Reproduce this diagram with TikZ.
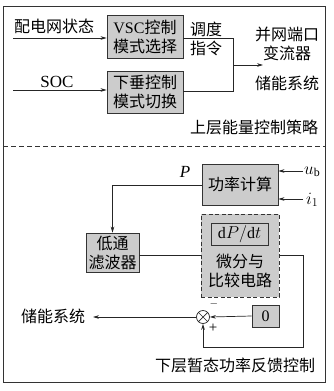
\documentclass[tikz,border=0pt]{standalone}
\usepackage{fontspec}
\setmainfont{Liberation Serif}
\newfontfamily\cjk{Noto Sans CJK SC}
\usetikzlibrary{arrows.meta,calc}
\tikzset{
  blk/.style={draw=black!80,line width=0.8pt,fill=black!20,inner sep=0pt,align=center,font=\fontsize{16}{19}\selectfont\cjk},
  txt/.style={inner sep=0pt,align=center,font=\fontsize{16}{19}\selectfont\cjk},
  ln/.style={line width=0.7pt,draw=black!85},
  arr/.style={ln,-{Stealth[length=6pt,width=3.6pt]}}
}
\begin{document}
\begin{tikzpicture}[x=1pt,y=-1pt]
\useasboundingbox (0,0) rectangle (333,391);
\draw[line width=0.8pt,draw=black!80] (3,6) rectangle (325,382);
\draw[line width=0.8pt,draw=black!80,dash pattern=on 5pt off 3pt] (3,146) -- (325,146);
% upper
\node[blk,minimum width=76pt,minimum height=43pt] (vsc) at (145,36.5) {{\rmfamily VSC}控制\\模式选择};
\node[blk,minimum width=76pt,minimum height=42pt] (droop) at (145,92) {下垂控制\\模式切换};
\node[txt] (st) at (54,26) {配电网状态};
\node[txt,font=\fontsize{17}{19}\selectfont\rmfamily] (soc) at (57,82) {SOC};
\coordinate (in1) at (13,38);
\coordinate (in2) at (13,90);
\draw[arr] (in1) -- (in1 -| vsc.west);
\draw[arr] (in2) -- (in2 -| droop.west);
\coordinate (jt) at (233,38);
\coordinate (jb) at (233,91);
\coordinate (jm) at (233,65);
\coordinate (jo) at (263,65);
\draw[ln] (vsc.east |- jt) -- (jt) -- (jb) -- (droop.east |- jb);
\draw[arr] (jm) -- (jo);
\node[txt] (dd) at (206,39) {调度\\指令};
\node[txt] (conv) at (287,44) {并网端口\\变流器};
\node[txt] (ess1) at (287,83) {储能系统};
\node[txt] (up) at (254,127) {上层能量控制策略};
% lower
\node[blk,minimum width=76pt,minimum height=41pt] (pc) at (240,184.5) {功率计算};
\node[txt,font=\fontsize{17}{19}\selectfont\rmfamily\itshape] (plab) at (185,172) {P};
\node[blk,minimum width=53pt,minimum height=39pt] (lpf) at (112.5,252.5) {低通\\滤波器};
\draw[arr] (pc.west |- 0,185) -| (lpf.north);
\coordinate (ub) at (303,171);
\coordinate (ii) at (303,199);
\draw[arr] (ub) -- (ub -| pc.east);
\draw[arr] (ii) -- (ii -| pc.east);
\node[txt,anchor=west,font=\fontsize{17}{19}\selectfont] (ubl) at (304,172) {$u_{\mathrm{b}}$};
\node[txt,anchor=west,font=\fontsize{17}{19}\selectfont] (iil) at (306,200) {$i_{1}$};
\node[blk,dash pattern=on 4pt off 2.5pt,minimum width=78pt,minimum height=83pt] (dbox) at (240,255.5) {};
\node[blk,minimum width=57pt,minimum height=22pt,font=\fontsize{16}{18}\selectfont] (dpdt) at (239.5,234) {$\mathrm{d}P/\mathrm{d}t$};
\node[txt] (wf) at (240,270.5) {微分与\\比较电路};
\coordinate (lr) at (139,255);
\draw[ln] (lpf.east |- lr) -- (dbox.west |- lr);
\node[draw=black!85,line width=0.7pt,circle,minimum size=13pt,inner sep=0pt] (sum) at (203,317) {};
\draw[ln] (sum.north west) -- (sum.south east) (sum.north east) -- (sum.south west);
\node[blk,minimum width=27pt,minimum height=22pt,font=\fontsize{16}{18}\selectfont\rmfamily] (zero) at (265.5,316) {0};
\coordinate (fr) at (303,255);
\coordinate (fb) at (303,347);
\coordinate (fl) at (203,347);
\draw[arr] (dbox.east |- fr) -- (fr) -- (fb) -- (fl) -- (sum.south);
\draw[arr] (zero.west) -- (sum.east);
\coordinate (eo) at (93,317);
\draw[arr] (sum.west) -- (eo);
\node[txt] (ess2) at (53,316) {储能系统};
\node[txt,font=\fontsize{11}{11}\selectfont\rmfamily] (minus) at (214,304) {$-$};
\node[txt,font=\fontsize{15}{15}\selectfont\rmfamily] (plus) at (213,328) {+};
\node[txt] (low) at (235,365) {下层暂态功率反馈控制};
\end{tikzpicture}
\end{document}
